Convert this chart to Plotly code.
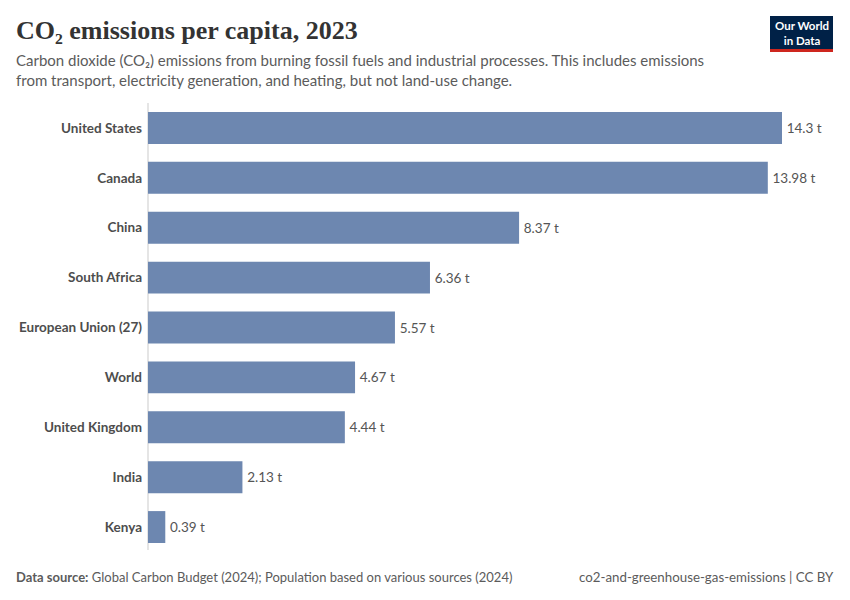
import plotly.graph_objects as go

countries = ["United States", "Canada", "China", "South Africa", "European Union (27)",
             "World", "United Kingdom", "India", "Kenya"]
values = [14.3, 13.98, 8.37, 6.36, 5.57, 4.67, 4.44, 2.13, 0.39]
value_labels = ["14.3 t", "13.98 t", "8.37 t", "6.36 t", "5.57 t", "4.67 t", "4.44 t", "2.13 t", "0.39 t"]

W, H = 850, 600
L, R, T, B = 148, 68, 103, 48
PW, PH = W - L - R, H - T - B


def px_x(p):
    return (p - L) / PW


def px_y(p):
    return 1 - (p - T) / PH


fig = go.Figure()
fig.add_trace(go.Bar(
    x=values, y=countries, orientation="h",
    marker=dict(color="#6d87b0", line=dict(width=0)),
    width=0.64,
    text=["\u2009" + s for s in value_labels], textposition="outside", cliponaxis=False,
    constraintext="none",
    textfont=dict(family="Lato", size=13.5, color="#555555"),
    hoverinfo="skip",
))

fig.update_layout(
    width=W, height=H,
    margin=dict(l=L, r=R, t=T, b=B),
    paper_bgcolor="white", plot_bgcolor="white",
    showlegend=False,
    xaxis=dict(range=[0, 14.3], showgrid=False, zeroline=False, showticklabels=False,
               showline=False, fixedrange=True),
    yaxis=dict(autorange=False, range=[8.5, -0.5], showgrid=False, zeroline=False,
               showline=False, ticks="", ticklabelstandoff=5, fixedrange=True,
               tickfont=dict(family="Lato", size=13.5, color="#4d4d4d", weight="bold")),
    font=dict(family="Lato"),
)

# vertical axis line
fig.add_shape(type="line", xref="paper", yref="paper", x0=0, x1=0, y0=px_y(550), y1=px_y(103),
              line=dict(color="#dddddd", width=1.5), layer="below")

# title
fig.add_annotation(xref="paper", yref="paper", x=px_x(14), y=px_y(30),
                   xanchor="left", yanchor="middle", showarrow=False,
                   text="CO₂ emissions per capita, 2023",
                   font=dict(family="Liberation Serif", size=26, color="#333333", weight="bold"))
# subtitle
fig.add_annotation(xref="paper", yref="paper", x=px_x(14), y=px_y(70.5),
                   xanchor="left", yanchor="middle", showarrow=False, align="left",
                   text="Carbon dioxide (CO₂) emissions from burning fossil fuels and industrial processes. This includes emissions<br>from transport, electricity generation, and heating, but not land-use change.",
                   font=dict(family="Lato", size=15, color="#5b5b5b"))
# footer
fig.add_annotation(xref="paper", yref="paper", x=px_x(14), y=px_y(577),
                   xanchor="left", yanchor="middle", showarrow=False,
                   text="<b>Data source:</b> Global Carbon Budget (2024); Population based on various sources (2024)",
                   font=dict(family="Lato", size=13, color="#5b5b5b"))
fig.add_annotation(xref="paper", yref="paper", x=px_x(836), y=px_y(577),
                   xanchor="right", yanchor="middle", showarrow=False,
                   text="co2-and-greenhouse-gas-emissions | CC BY",
                   font=dict(family="Lato", size=13.3, color="#5b5b5b"))

# logo
fig.add_shape(type="rect", xref="paper", yref="paper", x0=px_x(770), x1=px_x(833),
              y0=px_y(49), y1=px_y(16), fillcolor="#002147", line=dict(width=0))
fig.add_shape(type="rect", xref="paper", yref="paper", x0=px_x(770), x1=px_x(833),
              y0=px_y(52), y1=px_y(49), fillcolor="#ce261e", line=dict(width=0))
fig.add_annotation(xref="paper", yref="paper", x=px_x(801.5), y=px_y(33),
                   xanchor="center", yanchor="middle", showarrow=False,
                   text="Our World<br>in Data", align="center",
                   font=dict(family="Lato", size=11.5, color="white", weight="bold"))

fig.write_html("out.html", config={"displayModeBar": False},
               post_script="document.body.style.margin='0';")
